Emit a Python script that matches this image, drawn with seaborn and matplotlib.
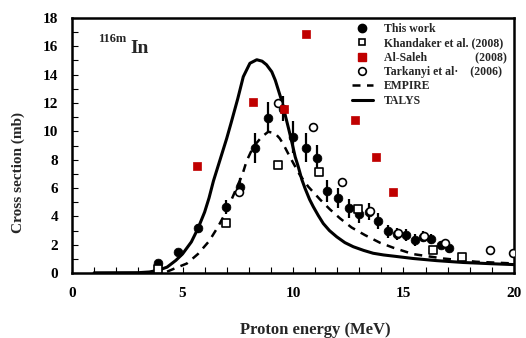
import numpy as np
import pandas as pd
import matplotlib
matplotlib.use('Agg')
import matplotlib.pyplot as plt
from matplotlib.lines import Line2D
from matplotlib.ticker import MultipleLocator
import seaborn as sns

# This work (measured points with uncertainty)
this_e = [3.9, 4.78, 5.72, 6.97, 7.6, 8.28, 8.88, 9.55, 10.01, 10.57, 11.07, 11.55, 12.05, 12.53,
          12.99, 13.44, 13.86, 14.28, 14.72, 15.11, 15.52, 15.9, 16.27, 16.68, 17.07]
this_xs = [0.68, 1.46, 3.15, 4.68, 6.09, 8.8, 10.97, 11.6, 9.62, 8.85, 8.14, 5.79, 5.27, 4.57,
           4.14, 4.33, 3.69, 2.96, 2.75, 2.68, 2.33, 2.56, 2.38, 1.98, 1.74]
this_err = [0.2, 0.2, 0.3, 0.5, 0.6, 1.05, 1.12, 0.9, 1.13, 1.0, 0.9, 0.75, 0.7, 0.65,
            0.6, 0.6, 0.55, 0.45, 0.45, 0.45, 0.4, 0.4, 0.35, 0.3, 0.3]

# Khandaker et al. (2008)
khan_e = [3.9, 6.97, 9.31, 11.19, 12.93, 16.32, 17.63]
khan_xs = [0.28, 3.55, 7.62, 7.15, 4.55, 1.62, 1.15]

# Al-Saleh (2008)
alsaleh_e = [5.64, 8.18, 9.6, 10.59, 12.8, 13.74, 14.51]
alsaleh_xs = [7.57, 12.09, 11.6, 16.87, 10.8, 8.21, 5.74]

# Tarkanyi et al. (2006)
tark_e = [7.57, 9.31, 10.92, 12.2, 13.5, 14.75, 15.95, 16.9, 18.94, 19.97]
tark_xs = [5.72, 11.98, 10.33, 6.4, 4.35, 2.85, 2.6, 2.1, 1.6, 1.43]

# EMPIRE calculation
empire_e = [4.3, 4.6, 5.2, 5.7, 6.2, 6.6, 7.0, 7.25, 7.5, 7.7, 7.9, 8.2, 8.58, 8.88, 9.19, 9.4,
            9.56, 9.86, 10.0, 10.3, 10.69, 11.22, 11.67, 12.13, 12.65, 13.26, 13.94, 14.54,
            15.44, 16.8, 18.3, 20.0]
empire_xs = [0.1, 0.3, 0.68, 1.35, 2.25, 3.25, 4.4, 5.3, 6.2, 6.9, 7.9, 8.9, 9.6, 9.97, 9.86, 9.5,
             9.1, 8.2, 7.8, 6.95, 6.1, 5.2, 4.5, 3.86, 3.22, 2.68, 2.14, 1.79,
             1.34, 1.03, 0.8, 0.68]

# TALYS calculation
talys_e = [1.0, 3.0, 3.5, 3.9, 4.3, 4.7, 5.0, 5.4, 5.7, 6.0, 6.2, 6.4, 6.7, 7.0, 7.2, 7.5, 7.75,
           8.05, 8.36, 8.6, 8.8, 9.04, 9.2, 9.34, 9.5, 9.64, 9.8, 9.94, 10.1, 10.24, 10.4, 10.54,
           10.75, 10.92, 11.15, 11.37, 11.65, 11.98, 12.35, 12.73, 13.2, 13.63, 14.1, 14.7,
           15.44, 16.5, 17.7, 19.0, 20.0]
talys_xs = [0.02, 0.03, 0.08, 0.2, 0.42, 0.9, 1.35, 2.2, 3.15, 4.3, 5.3, 6.5, 8.0, 9.5, 10.6, 12.3,
            13.85, 14.8, 15.05, 14.95, 14.7, 14.2, 13.6, 12.9, 12.1, 11.2, 10.2, 9.3, 8.2, 7.5,
            6.6, 6.0, 5.2, 4.68, 4.05, 3.5, 3.0, 2.56, 2.15, 1.86, 1.6, 1.4, 1.28, 1.17,
            1.03, 0.88, 0.75, 0.66, 0.6]

sns.set_style('ticks')
plt.rcParams['font.family'] = ['Liberation Serif', 'DejaVu Serif']
plt.rcParams['font.weight'] = 'bold'

red = '#c00000'

fig, ax = plt.subplots(figsize=(5.26, 3.38), dpi=100)
fig.subplots_adjust(left=0.137, right=0.977, bottom=0.192, top=0.947)

sns.lineplot(x=talys_e, y=talys_xs, ax=ax, color='black', lw=2.2, sort=False, zorder=2)
sns.lineplot(x=empire_e, y=empire_xs, ax=ax, color='black', lw=1.8, sort=False,
             linestyle=(0, (3.2, 2.6)), zorder=2)

ax.errorbar(this_e, this_xs, yerr=this_err, fmt='none', ecolor='black', elinewidth=1.6,
            capsize=0, zorder=3)
sns.scatterplot(x=this_e, y=this_xs, ax=ax, marker='o', s=40, color='black',
                edgecolor='black', linewidth=0.5, zorder=4)
sns.scatterplot(x=khan_e, y=khan_xs, ax=ax, marker='s', s=28, facecolor='white',
                edgecolor='black', linewidth=1.2, zorder=5)
sns.scatterplot(x=tark_e, y=tark_xs, ax=ax, marker='o', s=32, facecolor='white',
                edgecolor='black', linewidth=1.2, zorder=5)
sns.scatterplot(x=alsaleh_e, y=alsaleh_xs, ax=ax, marker='s', s=32, color=red,
                edgecolor=red, linewidth=0.5, zorder=6)

ax.set_xlim(0, 20)
ax.set_ylim(0, 18)
ax.set_xticks([0, 5, 10, 15, 20])
ax.set_yticks(range(0, 19, 2))
ax.xaxis.set_minor_locator(MultipleLocator(1))
ax.yaxis.set_minor_locator(MultipleLocator(1))
ax.tick_params(which='both', direction='in', length=4, width=0.8, colors='black')
ax.tick_params(which='major', labelsize=11, pad=10)
for lab in ax.get_xticklabels() + ax.get_yticklabels():
    lab.set_fontweight('bold')
for sp in ax.spines.values():
    sp.set_visible(True)
    sp.set_linewidth(1.8)
    sp.set_color('black')

ax.set_xlabel('Proton energy (MeV)', fontsize=12, fontweight='bold')
ax.set_ylabel('Cross section (mb)', fontsize=11, fontweight='bold')
ax.xaxis.set_label_coords(0.55, -0.192)
ax.yaxis.set_label_coords(-0.106, 0.396)

ax.text(0.059, 0.906, '116m', transform=ax.transAxes, fontsize=9, fontweight='bold',
        va='baseline', ha='left')
ax.text(0.131, 0.862, 'In', transform=ax.transAxes, fontsize=14, fontweight='bold',
        va='baseline', ha='left')

handles = [
    Line2D([], [], marker='o', color='black', ls='none', ms=6),
    Line2D([], [], marker='s', mfc='white', mec='black', mew=1.2, ls='none', ms=5),
    Line2D([], [], marker='s', color=red, ls='none', ms=5.5),
    Line2D([], [], marker='o', mfc='white', mec='black', mew=1.2, ls='none', ms=5.5),
    Line2D([], [], color='black', lw=1.8, ls=(0, (3.2, 2.6))),
    Line2D([], [], color='black', lw=2.2),
]
labels = ['This work', 'Khandaker et al. (2008)', 'Al-Saleh                (2008)',
          'Tarkanyi et al\u00b7    (2006)', 'EMPIRE', 'TALYS']
ax.legend(handles, labels, loc='upper left', bbox_to_anchor=(0.633, 0.98), frameon=False,
          handlelength=1.8, handletextpad=0.9, labelspacing=0.2,
          borderpad=0, borderaxespad=0, prop={'weight': 'bold', 'size': 8.5})

fig.savefig('out.png', dpi=100)
